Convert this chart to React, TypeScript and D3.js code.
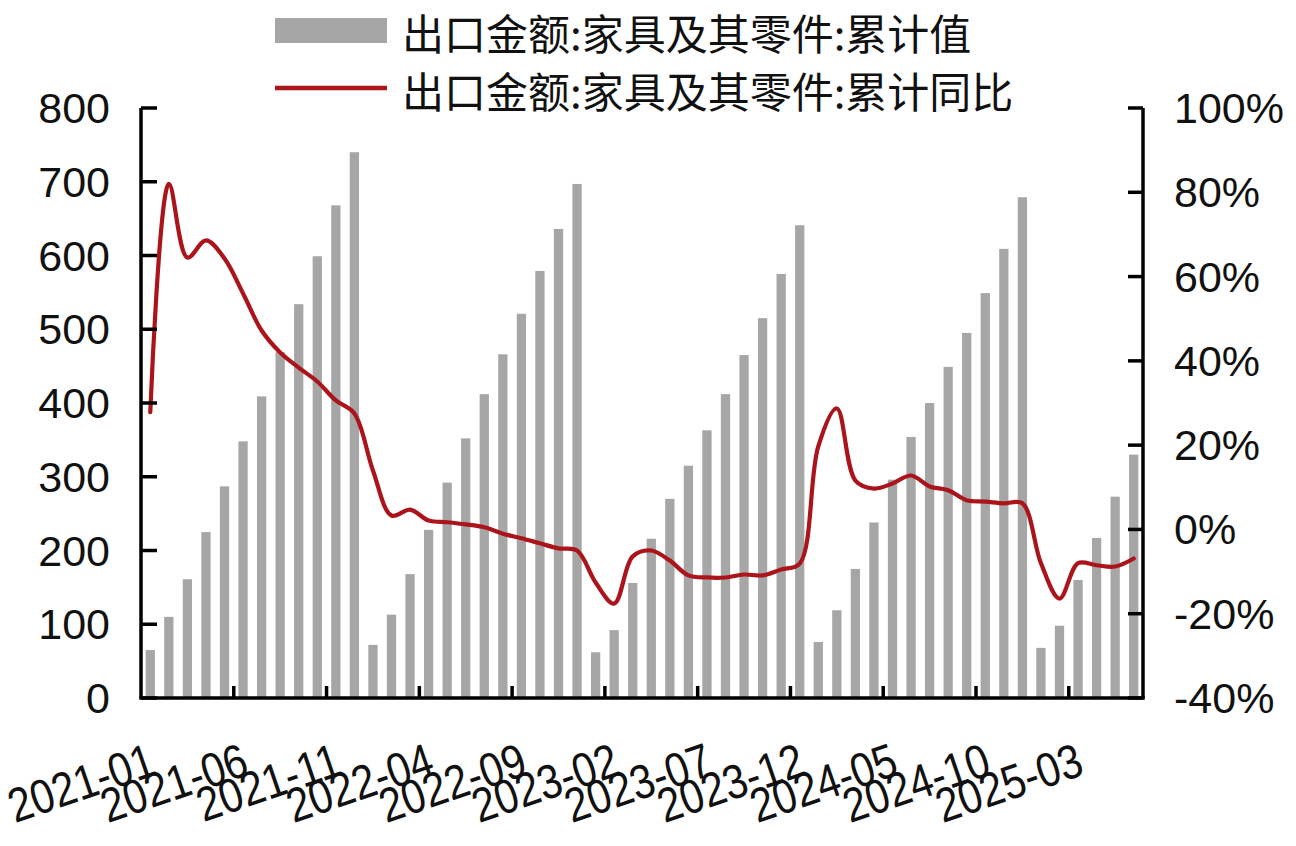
import React from "react";
import * as d3 from "d3";

const months: string[] = [
  "2021-01","2021-02","2021-03","2021-04","2021-05","2021-06","2021-07","2021-08","2021-09","2021-10","2021-11","2021-12",
  "2022-01","2022-02","2022-03","2022-04","2022-05","2022-06","2022-07","2022-08","2022-09","2022-10","2022-11","2022-12",
  "2023-01","2023-02","2023-03","2023-04","2023-05","2023-06","2023-07","2023-08","2023-09","2023-10","2023-11","2023-12",
  "2024-01","2024-02","2024-03","2024-04","2024-05","2024-06","2024-07","2024-08","2024-09","2024-10","2024-11","2024-12",
  "2025-01","2025-02","2025-03","2025-04","2025-05","2025-06",
];

// 出口金额:家具及其零件:累计值
const cumValue: number[] = [
  65, 110, 161, 225, 287, 348, 409, 469, 534, 599, 668, 740,
  72, 113, 168, 228, 292, 352, 412, 466, 521, 579, 636, 697,
  62, 92, 156, 216, 270, 315, 363, 412, 465, 515, 575, 641,
  76, 119, 175, 238, 296, 354, 400, 449, 495, 549, 609, 679,
  68, 98, 160, 217, 273, 330,
];

// 出口金额:家具及其零件:累计同比 (%)
const cumYoY: number[] = [
  27.8, 82, 64.5, 68.6, 64.3, 56, 47.2, 42, 38.4, 35.1, 30.6, 27.5,
  14, 3.3, 4.7, 2.1, 1.7, 1.2, 0.5, -1, -2.1, -3.3, -4.5, -5,
  -12.6, -17.6, -6.4, -5, -7.4, -10.9, -11.4, -11.4, -10.7, -10.9, -9.5, -8.1,
  19.7, 28.7, 11.6, 9.7, 10.9, 12.8, 10.2, 9.3, 6.9, 6.6, 6.2, 6.2,
  -8, -16.4, -8, -8.5, -8.8, -6.9,
];

const xTickLabels: string[] = [
  "2021-01","2021-06","2021-11","2022-04","2022-09","2023-02",
  "2023-07","2023-12","2024-05","2024-10","2025-03",
];
const leftTicks: number[] = [0, 100, 200, 300, 400, 500, 600, 700, 800];
const rightTicks: number[] = [-40, -20, 0, 20, 40, 60, 80, 100];

const legendLabels: string[] = [
  "出口金额:家具及其零件:累计值",
  "出口金额:家具及其零件:累计同比",
];

const W = 1296;
const H = 846;
const left = 141;
const right = 1143;
const top = 108;
const bottom = 698;

const BAR = "#A6A6A6";
const LINE = "#AC141B";
const LATIN = "'Liberation Sans', Arial, sans-serif";
const CJK = "'Noto Sans CJK SC', sans-serif";

export default function App() {
  const x = d3.scaleBand<string>().domain(months).range([left, right]).paddingInner(0.5).paddingOuter(0.25);
  const yL = d3.scaleLinear().domain([0, 800]).range([bottom, top]);
  const yR = d3.scaleLinear().domain([-40, 100]).range([bottom, top]);
  const step = x.step();
  const cx = (m: string) => (x(m) as number) + x.bandwidth() / 2;

  const line = d3
    .line<number>()
    .x((_, i) => cx(months[i]))
    .y((d) => yR(d))
    .curve(d3.curveCatmullRom.alpha(0.5));

  const axisW = 3.5;

  return (
    <svg width={W} height={H} style={{ position: "absolute", left: 0, top: 0, background: "#fff" }}>
      {/* bars */}
      {cumValue.map((v, i) => (
        <rect key={"b" + i} x={x(months[i])} y={yL(v)} width={x.bandwidth()} height={yL(0) - yL(v)} fill={BAR} />
      ))}
      {/* line */}
      <path d={line(cumYoY) || ""} fill="none" stroke={LINE} strokeWidth={4.2} strokeLinejoin="round" strokeLinecap="round" />

      {/* axes */}
      <line x1={left} x2={left} y1={top} y2={bottom} stroke="#000" strokeWidth={axisW} />
      <line x1={right} x2={right} y1={top} y2={bottom} stroke="#000" strokeWidth={axisW} />
      <line x1={left - axisW / 2} x2={right + axisW / 2} y1={bottom} y2={bottom} stroke="#000" strokeWidth={axisW} />

      {leftTicks.map((t) => (
        <g key={"l" + t}>
          <line x1={left} x2={left + 16} y1={yL(t)} y2={yL(t)} stroke="#000" strokeWidth={axisW} />
          <text x={110} y={yL(t)} textAnchor="end" dominantBaseline="central" fontFamily={LATIN} fontSize={43} fill="#111">
            {t}
          </text>
        </g>
      ))}
      {rightTicks.map((t) => (
        <g key={"r" + t}>
          <line x1={right - 15} x2={right} y1={yR(t)} y2={yR(t)} stroke="#000" strokeWidth={axisW} />
          <text x={1174} y={yR(t)} textAnchor="start" dominantBaseline="central" fontFamily={LATIN} fontSize={43} fill="#111">
            {t + "%"}
          </text>
        </g>
      ))}
      {months.map((m, i) =>
        i > 0 && i % 5 === 0 ? (
          <line key={"t" + i} x1={cx(m) - step / 2} x2={cx(m) - step / 2} y1={bottom} y2={bottom - 12} stroke="#000" strokeWidth={axisW} />
        ) : null
      )}
      {xTickLabels.map((lab) => {
        const px = cx(lab) + 8;
        const py = 774;
        return (
          <text key={"x" + lab} x={0} y={0} transform={`translate(${px},${py}) rotate(-19) scale(0.96,1.12)`} textAnchor="end" fontFamily={LATIN} fontSize={43} fill="#111">
            {lab}
          </text>
        );
      })}

      {/* legend */}
      <rect x={275} y={18} width={112} height={25} fill={BAR} />
      <text x={402} y={31} dominantBaseline="central" fontFamily={CJK} fontSize={42} fill="#111">
        {legendLabels[0]}
      </text>
      <line x1={275} x2={387} y1={88} y2={88} stroke={LINE} strokeWidth={4.5} />
      <text x={402} y={89} dominantBaseline="central" fontFamily={CJK} fontSize={42} fill="#111">
        {legendLabels[1]}
      </text>
    </svg>
  );
}
